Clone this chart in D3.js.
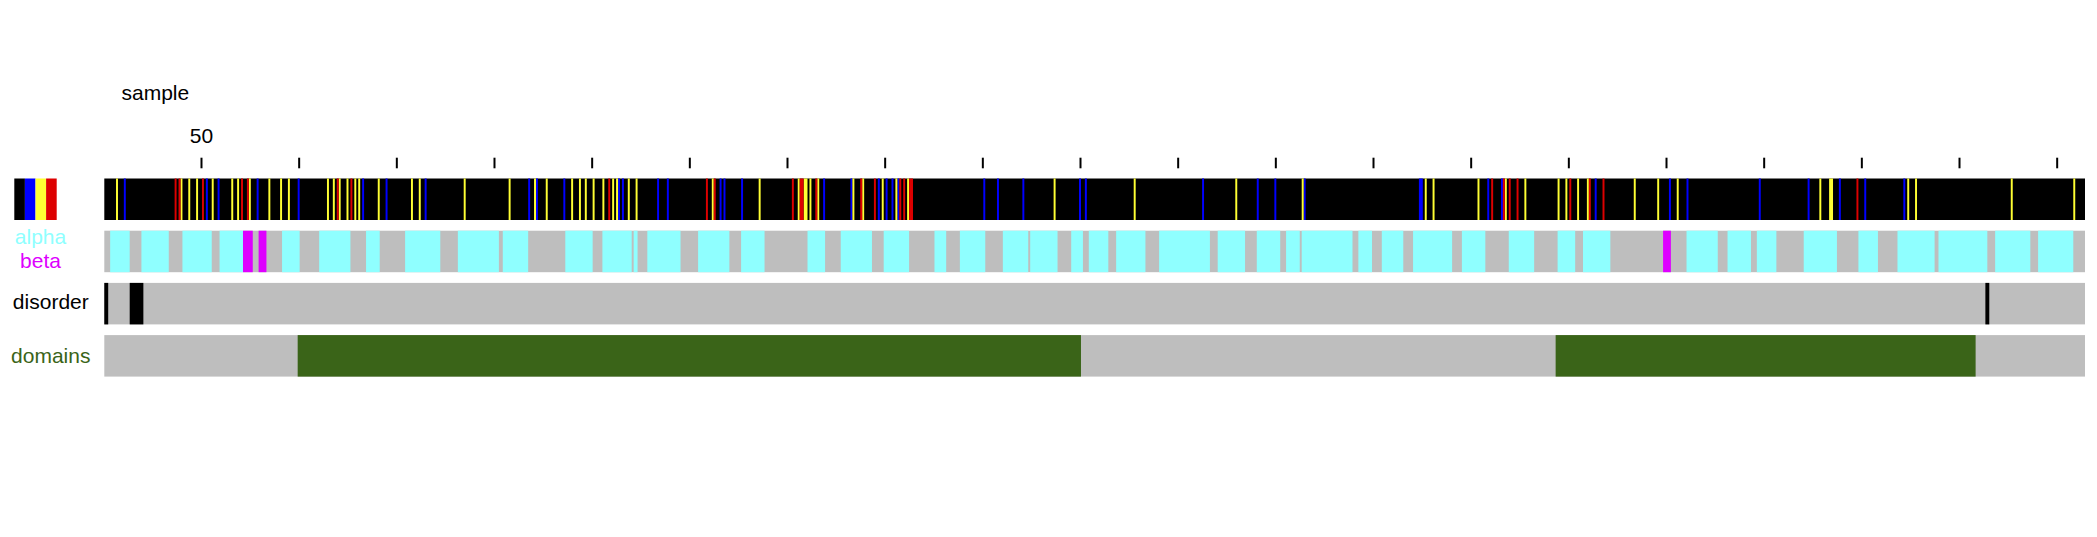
<!DOCTYPE html>
<html><head><meta charset="utf-8">
<script src="https://cdn.jsdelivr.net/npm/d3@7"></script>
<style>
html,body{margin:0;padding:0;background:#fff;overflow:hidden;}
svg{display:block;}
text{font-family:"Liberation Sans",Arial,Helvetica,sans-serif;}
</style></head><body>
<svg id="chart" width="2097" height="537"></svg>
<script>
// ---------------- DATA ----------------
const seqLength = 1014;
const sampleName = "sample";
const tickValues = [50,100,150,200,250,300,350,400,450,500,550,600,650,700,750,800,850,900,950,1000];
const tickLabels = {50: "50"};           // only the first tick carries a label
const legendColors = ["#000000", "#0000ff", "#ffff33", "#dd0000"];

// residues coloured in the sequence track (others are black)
const blueResidues = [11,53,59,79,100,133,145,165,218,222,236,264,266,284,289,316,318,327,369,383,397,401,404,407,451,458,471,500,503,563,591,600,615,674,675,709,716,764,802,811,848,873,889,902,922];
const yellowResidues = [7,40,44,48,56,66,69,75,85,91,95,115,118,121,125,129,131,141,158,162,185,208,221,227,240,244,247,251,256,261,263,269,273,312,336,356,359,360,362,366,384,389,399,406,412,487,528,580,614,677,681,704,718,728,745,749,755,760,784,796,806,879,884,885,924,928,977,1009];
const redResidues = [37,39,51,71,74,120,127,259,309,313,353,357,358,365,388,395,408,410,413,414,711,717,720,724,751,761,768,898];

// secondary structure segments [start, end]
const helixSegments = [[4,13],[20,33],[41,55],[60,71],[92,100],[111,126],[135,141],[155,172],[182,202],[205,217],[237,250],[256,270],[272,273],[279,295],[305,320],[327,338],[361,369],[378,393],[400,412],[426,431],[439,451],[461,473],[475,488],[496,501],[505,514],[519,533],[541,566],[571,584],[591,602],[606,612],[614,639],[643,649],[655,665],[671,690],[696,707],[720,732],[745,753],[758,771],[811,826],[832,843],[847,856],[871,887],[899,908],[919,937],[940,964],[969,986],[991,1008]];
const strandSegments = [[72,76],[80,83],[799,802]];

// disorder and domain segments [start, end]
const disorderSegments = [[1,2],[14,20],[964,965]];
const domainSegments = [[100,500],[744,958]];

// ---------------- STYLE ----------------
const C = {bg:"#bebebe", helix:"#8fffff", strand:"#de00ff", disorder:"#000000", domain:"#3a6418",
           blue:"#0000ff", yellow:"#ffff33", red:"#dd0000", black:"#000000"};
const trackTop0 = 178.5, trackStep = 52.2, trackH = 41.5;

const svg = d3.select("#chart");
const x = d3.scaleLinear().domain([0, seqLength]).range([104.3, 2085]);
const xTick = d3.scaleLinear().domain([0.5, seqLength + 0.5]).range([104.3, 2085]);
const trackY = k => trackTop0 + k * trackStep;

// sample name
svg.append("text").attr("x", 121.5).attr("y", 100).attr("font-size", 21).attr("fill", "#000").text(sampleName);

// axis (ticks on residue centres)
const axis = d3.axisTop(xTick).tickValues(tickValues).tickSize(10.6).tickPadding(14.5)
  .tickFormat(d => tickLabels[d] || "");
const gAxis = svg.append("g").attr("transform", "translate(0,168.3)").call(axis);
gAxis.select(".domain").remove();
gAxis.selectAll(".tick line").attr("stroke", "#000").attr("stroke-width", 2);
gAxis.selectAll(".tick text").attr("font-size", 21).attr("fill", "#000")
  .attr("font-family", '"Liberation Sans",Arial,Helvetica,sans-serif');

// helper: runs of residues into [start,end]
function runs(list) {
  const s = [...list].sort((a,b)=>a-b); const out = [];
  s.forEach(r => { const last = out[out.length-1]; if (last && r === last[1] + 1) last[1] = r; else out.push([r, r]); });
  return out;
}

function drawTrack(k, bgColor, layers) {
  const g = svg.append("g");
  g.append("rect").attr("x", x(0)).attr("width", x(seqLength) - x(0))
    .attr("y", trackY(k)).attr("height", trackH).attr("fill", bgColor);
  layers.forEach(([segs, color]) => {
    g.selectAll(null).data(segs).enter().append("rect")
      .attr("x", d => x(d[0] - 1)).attr("width", d => x(d[1]) - x(d[0] - 1))
      .attr("y", trackY(k)).attr("height", trackH).attr("fill", color);
  });
}

// track 0 : sequence colours
drawTrack(0, C.black, [[runs(blueResidues), C.blue], [runs(yellowResidues), C.yellow], [runs(redResidues), C.red]]);
// track 1 : secondary structure
drawTrack(1, C.bg, [[helixSegments, C.helix], [strandSegments, C.strand]]);
// track 2 : disorder
drawTrack(2, C.bg, [[disorderSegments, C.disorder]]);
// track 3 : domains
drawTrack(3, C.bg, [[domainSegments, C.domain]]);

// legend swatch
const lx = d3.scaleBand().domain(legendColors).range([14.3, 56.7]);
svg.append("g").selectAll("rect").data(legendColors).enter().append("rect")
  .attr("x", d => lx(d)).attr("width", lx.bandwidth()).attr("y", trackY(0)).attr("height", trackH)
  .attr("fill", d => d);

// labels
const labels = [
  {t:"alpha", x:40.5, y:244, c:C.helix},
  {t:"beta", x:40.5, y:267.5, c:C.strand},
  {t:"disorder", x:50.8, y:309.3, c:"#000000"},
  {t:"domains", x:50.8, y:362.5, c:C.domain}
];
svg.append("g").selectAll("text").data(labels).enter().append("text")
  .attr("x", d => d.x).attr("y", d => d.y).attr("text-anchor", "middle")
  .attr("font-size", 21).attr("fill", d => d.c).text(d => d.t);
</script>
</body></html>
